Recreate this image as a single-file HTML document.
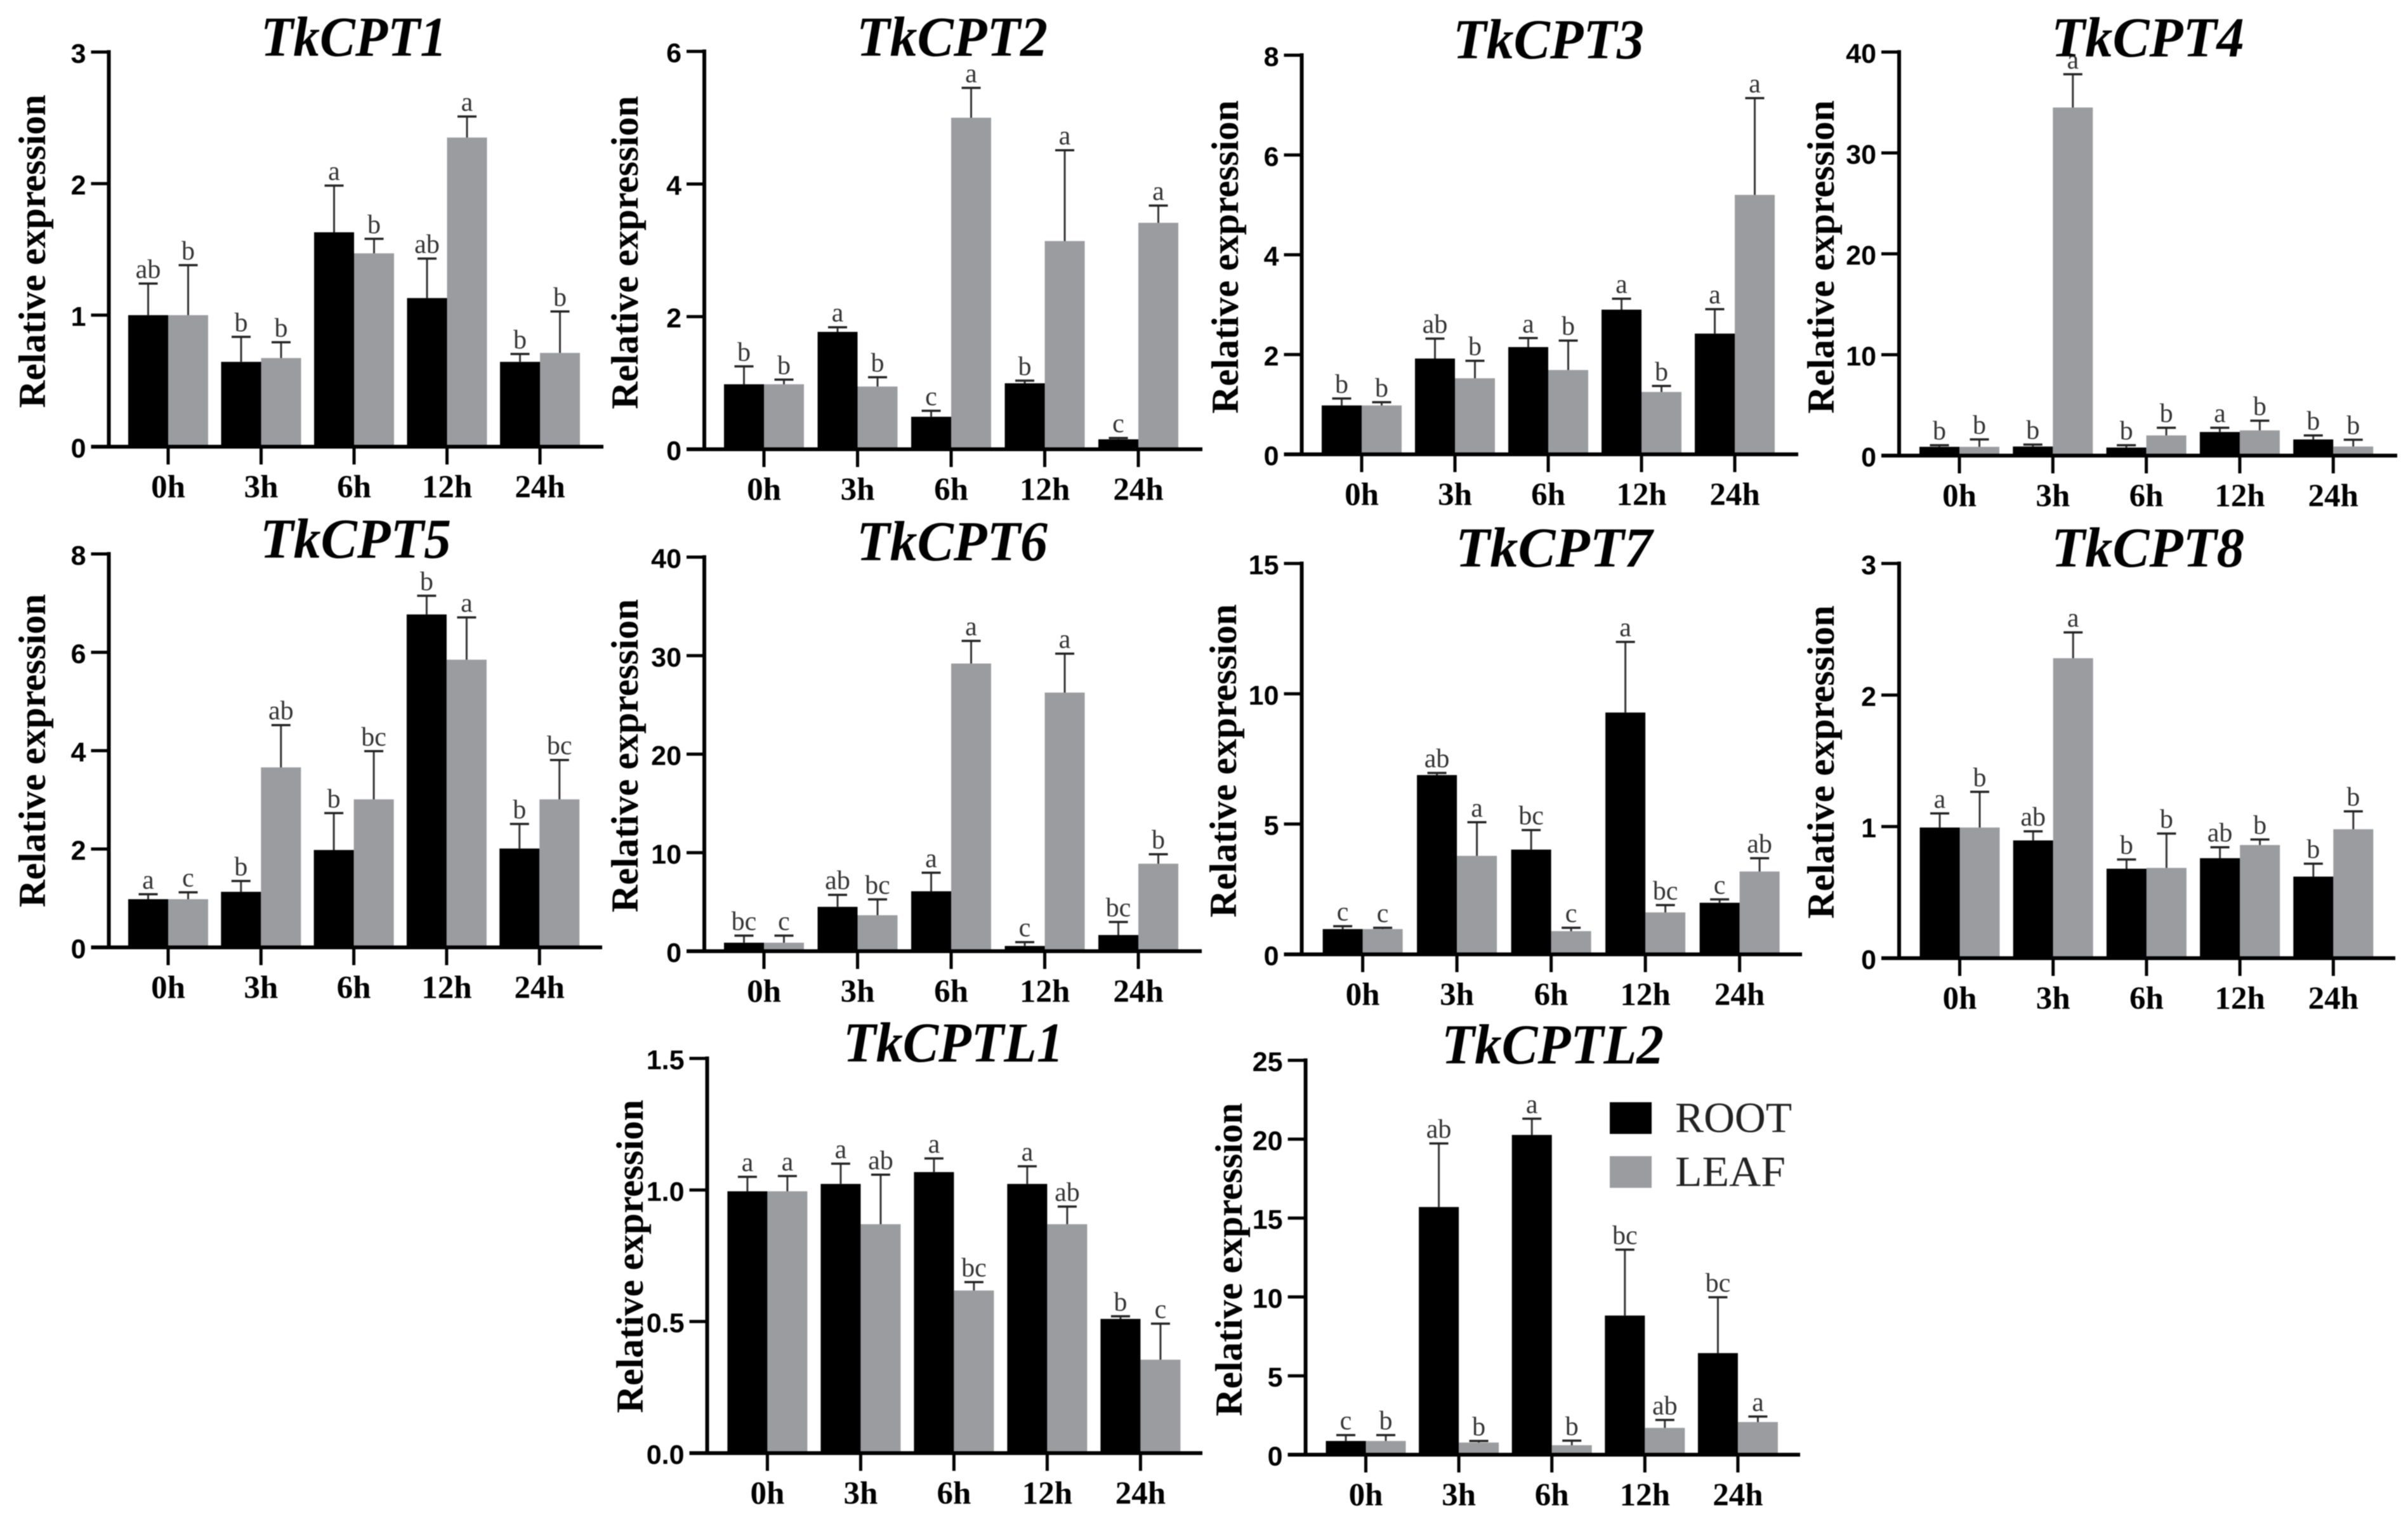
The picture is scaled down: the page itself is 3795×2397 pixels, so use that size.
<!DOCTYPE html>
<html lang="en">
<head>
<meta charset="utf-8">
<title>Relative expression of TkCPT genes</title>
<style>
html,body{margin:0;padding:0;background:#fff;}
svg{display:block;filter:blur(0.9px);}
.title{font-family:"Liberation Serif",serif;font-weight:bold;font-style:italic;font-size:89px;fill:#000;}
.ylab{font-family:"Liberation Serif",serif;font-weight:bold;font-size:60px;fill:#000;text-anchor:middle;}
.ytick{font-family:"Liberation Sans",sans-serif;font-weight:bold;font-size:43px;fill:#000;text-anchor:end;}
.xtick{font-family:"Liberation Serif",serif;font-weight:bold;font-size:51px;fill:#000;text-anchor:middle;}
.sig{font-family:"Liberation Serif",serif;font-size:42px;fill:#333;text-anchor:middle;}
.legend{font-family:"Liberation Serif",serif;font-size:68px;fill:#222;}
</style>
</head>
<body>
<svg id="figure" xmlns="http://www.w3.org/2000/svg" width="3795" height="2397" viewBox="0 0 3795 2397">
  <rect width="3795" height="2397" fill="#fff"/>

  <g id="tkcpt1">
    <text class="title" x="411" y="88" textLength="293" lengthAdjust="spacingAndGlyphs">TkCPT1</text>
    <text class="ylab" transform="translate(71,396) rotate(-90)">Relative expression</text>
  </g>
  <g id="tkcpt2">
    <text class="title" x="1350" y="88" textLength="301" lengthAdjust="spacingAndGlyphs">TkCPT2</text>
    <text class="ylab" transform="translate(1005,398) rotate(-90)">Relative expression</text>
  </g>
  <g id="tkcpt3">
    <text class="title" x="2290" y="92" textLength="301" lengthAdjust="spacingAndGlyphs">TkCPT3</text>
    <text class="ylab" transform="translate(1951,405) rotate(-90)">Relative expression</text>
  </g>
  <g id="tkcpt4">
    <text class="title" x="3233" y="89" textLength="304" lengthAdjust="spacingAndGlyphs">TkCPT4</text>
    <text class="ylab" transform="translate(2890,405) rotate(-90)">Relative expression</text>
  </g>
  <g id="tkcpt5">
    <text class="title" x="410" y="879" textLength="301" lengthAdjust="spacingAndGlyphs">TkCPT5</text>
    <text class="ylab" transform="translate(71,1183) rotate(-90)">Relative expression</text>
  </g>
  <g id="tkcpt6">
    <text class="title" x="1350" y="883" textLength="301" lengthAdjust="spacingAndGlyphs">TkCPT6</text>
    <text class="ylab" transform="translate(1005,1191) rotate(-90)">Relative expression</text>
  </g>
  <g id="tkcpt7">
    <text class="title" x="2294" y="893" textLength="310" lengthAdjust="spacingAndGlyphs">TkCPT7</text>
    <text class="ylab" transform="translate(1948,1199) rotate(-90)">Relative expression</text>
  </g>
  <g id="tkcpt8">
    <text class="title" x="3233" y="893" textLength="304" lengthAdjust="spacingAndGlyphs">TkCPT8</text>
    <text class="ylab" transform="translate(2890,1201) rotate(-90)">Relative expression</text>
  </g>
  <g id="tkcptl1">
    <text class="title" x="1329" y="1673" textLength="347" lengthAdjust="spacingAndGlyphs">TkCPTL1</text>
    <text class="ylab" transform="translate(1013,1980) rotate(-90)">Relative expression</text>
  </g>
  <g id="tkcptl2">
    <text class="title" x="2272" y="1676" textLength="350" lengthAdjust="spacingAndGlyphs">TkCPTL2</text>
    <text class="ylab" transform="translate(1957,1985) rotate(-90)">Relative expression</text>
  </g>

  <g>
    <g>
      <rect x="2537" y="1737" width="66" height="50" fill="#000"/>
      <text class="legend" x="2640" y="1784" textLength="184" lengthAdjust="spacingAndGlyphs">ROOT</text>
    </g>
    <g>
      <rect x="2537" y="1822" width="66" height="50" fill="#9b9c9f"/>
      <text class="legend" x="2640" y="1869" textLength="174" lengthAdjust="spacingAndGlyphs">LEAF</text>
    </g>
  </g>
</svg>

<script>
// Shared category labels
const categories = ["0h", "3h", "6h", "12h", "24h"];

// TkCPT1
const tkcpt1Ticks = ["0", "1", "2", "3"];
const tkcpt1Root = [1.0, 0.645, 1.63, 1.13, 0.645];
const tkcpt1RootSd = [0.24, 0.19, 0.355, 0.30, 0.06];
const tkcpt1RootSig = ["ab", "b", "a", "ab", "b"];
const tkcpt1Leaf = [1.0, 0.674, 1.47, 2.35, 0.713];
const tkcpt1LeafSd = [0.38, 0.12, 0.11, 0.16, 0.315];
const tkcpt1LeafSig = ["b", "b", "b", "a", "b"];

// TkCPT2
const tkcpt2Ticks = ["0", "2", "4", "6"];
const tkcpt2Root = [0.98, 1.77, 0.49, 0.995, 0.15];
const tkcpt2RootSd = [0.27, 0.07, 0.09, 0.04, 0.02];
const tkcpt2RootSig = ["b", "a", "c", "b", "c"];
const tkcpt2Leaf = [0.98, 0.946, 5.0, 3.14, 3.415];
const tkcpt2LeafSd = [0.07, 0.14, 0.45, 1.37, 0.26];
const tkcpt2LeafSig = ["b", "b", "a", "a", "a"];

// TkCPT3
const tkcpt3Ticks = ["0", "2", "4", "6", "8"];
const tkcpt3Root = [0.98, 1.92, 2.15, 2.90, 2.42];
const tkcpt3RootSd = [0.14, 0.40, 0.18, 0.22, 0.49];
const tkcpt3RootSig = ["b", "ab", "a", "a", "a"];
const tkcpt3Leaf = [0.98, 1.525, 1.69, 1.25, 5.2];
const tkcpt3LeafSd = [0.065, 0.35, 0.59, 0.12, 1.94];
const tkcpt3LeafSig = ["b", "b", "b", "b", "a"];

// TkCPT4
const tkcpt4Ticks = ["0", "10", "20", "30", "40"];
const tkcpt4Root = [0.87, 0.9, 0.8, 2.34, 1.6];
const tkcpt4RootSd = [0.16, 0.19, 0.23, 0.42, 0.4];
const tkcpt4RootSig = ["b", "b", "b", "a", "b"];
const tkcpt4Leaf = [0.87, 34.5, 2.0, 2.5, 0.9];
const tkcpt4LeafSd = [0.73, 3.3, 0.76, 0.96, 0.67];
const tkcpt4LeafSig = ["b", "a", "b", "b", "b"];

// TkCPT5
const tkcpt5Ticks = ["0", "2", "4", "6", "8"];
const tkcpt5Root = [0.98, 1.13, 1.98, 6.77, 2.01];
const tkcpt5RootSd = [0.10, 0.22, 0.75, 0.38, 0.5];
const tkcpt5RootSig = ["a", "b", "b", "b", "b"];
const tkcpt5Leaf = [0.98, 3.66, 3.01, 5.85, 3.01];
const tkcpt5LeafSd = [0.14, 0.86, 0.98, 0.86, 0.8];
const tkcpt5LeafSig = ["c", "ab", "bc", "a", "bc"];

// TkCPT6
const tkcpt6Ticks = ["0", "10", "20", "30", "40"];
const tkcpt6Root = [0.86, 4.5, 6.08, 0.53, 1.64];
const tkcpt6RootSd = [0.72, 1.22, 1.88, 0.39, 1.32];
const tkcpt6RootSig = ["bc", "ab", "a", "c", "bc"];
const tkcpt6Leaf = [0.86, 3.65, 29.2, 26.25, 8.88];
const tkcpt6LeafSd = [0.72, 1.61, 2.3, 3.95, 0.96];
const tkcpt6LeafSig = ["c", "bc", "a", "a", "b"];

// TkCPT7
const tkcpt7Ticks = ["0", "5", "10", "15"];
const tkcpt7Root = [0.97, 6.88, 4.02, 9.28, 1.98];
const tkcpt7RootSd = [0.11, 0.08, 0.75, 2.71, 0.13];
const tkcpt7RootSig = ["c", "ab", "bc", "a", "c"];
const tkcpt7Leaf = [0.97, 3.78, 0.89, 1.61, 3.18];
const tkcpt7LeafSd = [0.05, 1.29, 0.13, 0.28, 0.51];
const tkcpt7LeafSig = ["c", "a", "c", "bc", "ab"];

// TkCPT8
const tkcpt8Ticks = ["0", "1", "2", "3"];
const tkcpt8Root = [0.993, 0.895, 0.68, 0.76, 0.62];
const tkcpt8RootSd = [0.107, 0.069, 0.07, 0.083, 0.098];
const tkcpt8RootSig = ["a", "ab", "b", "ab", "b"];
const tkcpt8Leaf = [0.993, 2.28, 0.686, 0.86, 0.98];
const tkcpt8LeafSd = [0.271, 0.196, 0.261, 0.042, 0.136];
const tkcpt8LeafSig = ["b", "a", "b", "b", "b"];

// TkCPTL1
const tkcptl1Ticks = ["0.0", "0.5", "1.0", "1.5"];
const tkcptl1Root = [0.995, 1.023, 1.068, 1.023, 0.51];
const tkcptl1RootSd = [0.055, 0.077, 0.052, 0.067, 0.01];
const tkcptl1RootSig = ["a", "a", "a", "a", "b"];
const tkcptl1Leaf = [0.995, 0.87, 0.618, 0.87, 0.355];
const tkcptl1LeafSd = [0.058, 0.188, 0.032, 0.067, 0.137];
const tkcptl1LeafSig = ["a", "ab", "bc", "ab", "c"];

// TkCPTL2
const tkcptl2Ticks = ["0", "5", "10", "15", "20", "25"];
const tkcptl2Root = [0.87, 15.7, 20.27, 8.82, 6.44];
const tkcptl2RootSd = [0.37, 4.03, 1.03, 4.18, 3.54];
const tkcptl2RootSig = ["c", "ab", "a", "bc", "bc"];
const tkcptl2Leaf = [0.87, 0.77, 0.6, 1.7, 2.07];
const tkcptl2LeafSd = [0.37, 0.1, 0.29, 0.5, 0.35];
const tkcptl2LeafSig = ["b", "b", "b", "ab", "a"];

const NS = "http://www.w3.org/2000/svg";
const ROOT_COLOR = "#000";
const LEAF_COLOR = "#9b9c9f";
const BAR_W = 63;

function make(tag, parent, props) {
  const el = document.createElementNS(NS, tag);
  for (const k in props) el.setAttribute(k, props[k]);
  parent.appendChild(el);
  return el;
}

function drawSeries(g, prefix, side, values, sds, sigs, xScale, yScale, base, color) {
  values.forEach(function (v, i) {
    const cx = xScale(i);
    const left = side < 0 ? cx - BAR_W : cx;
    const bar = make("rect", g, { x: left, y: yScale(v), width: BAR_W, height: base - yScale(v), fill: color });
    
    

    const ex = left + BAR_W / 2;
    const errTop = yScale(v + sds[i]);
    const stem = make("line", g, { x1: ex, x2: ex, y1: yScale(v), y2: errTop, stroke: "#333", "stroke-width": 3 });
    
    
    const cap = make("line", g, { x1: ex - 15, x2: ex + 15, y1: errTop, y2: errTop, stroke: "#222", "stroke-width": 3.5 });
    
    

    const t = make("text", g, { class: "sig", x: ex, y: errTop - 9 });
    t.textContent = sigs[i];
    
    
  });
}

function drawChart(id, frame, ticks, root, rootSd, rootSig, leaf, leafSd, leafSig) {
  const g = document.getElementById(id);
  const maxVal = parseFloat(ticks[ticks.length - 1]);
  const yScale = function (v) { return frame.base - (v / maxVal) * (frame.base - frame.top); };
  const xScale = function (i) { return frame.cat0 + i * frame.step; };

  drawSeries(g, id + '-root', -1, root, rootSd, rootSig, xScale, yScale, frame.base, ROOT_COLOR);
  drawSeries(g, id + '-leaf', 1, leaf, leafSd, leafSig, xScale, yScale, frame.base, LEAF_COLOR);

  const yAxis = make("line", g, { x1: frame.axisX, x2: frame.axisX, y1: frame.top - 3, y2: frame.base + 3, stroke: "#000", "stroke-width": 6 });
  
  
  const xAxis = make("line", g, { x1: frame.axisX - 28, x2: frame.xEnd, y1: frame.base, y2: frame.base, stroke: "#000", "stroke-width": 6 });
  
  

  ticks.forEach(function (label) {
    const y = yScale(parseFloat(label));
    const tick = make("line", g, { x1: frame.axisX - 28, x2: frame.axisX, y1: y, y2: y, stroke: "#000", "stroke-width": 5 });
    
    
    const t = make("text", g, { class: "ytick", x: frame.axisX - 36, y: y + 17 });
    t.textContent = label;
    
    
  });

  categories.forEach(function (label, i) {
    const x = xScale(i);
    const tick = make("line", g, { x1: x, x2: x, y1: frame.base, y2: frame.base + 28, stroke: "#000", "stroke-width": 5 });
    
    
    const t = make("text", g, { class: "xtick", x: x, y: frame.base + 80 });
    t.textContent = label;
    
    
  });
}

drawChart("tkcpt1", { axisX: 171.5, top: 82, base: 704, cat0: 265, step: 146.5, xEnd: 951 },
  tkcpt1Ticks, tkcpt1Root, tkcpt1RootSd, tkcpt1RootSig, tkcpt1Leaf, tkcpt1LeafSd, tkcpt1LeafSig);
drawChart("tkcpt2", { axisX: 1110, top: 81, base: 708, cat0: 1204, step: 147.5, xEnd: 1895 },
  tkcpt2Ticks, tkcpt2Root, tkcpt2RootSd, tkcpt2RootSig, tkcpt2Leaf, tkcpt2LeafSd, tkcpt2LeafSig);
drawChart("tkcpt3", { axisX: 2051.5, top: 87, base: 716, cat0: 2146, step: 147, xEnd: 2834 },
  tkcpt3Ticks, tkcpt3Root, tkcpt3RootSd, tkcpt3RootSig, tkcpt3Leaf, tkcpt3LeafSd, tkcpt3LeafSig);
drawChart("tkcpt4", { axisX: 2993, top: 82, base: 718, cat0: 3088, step: 147.3, xEnd: 3778 },
  tkcpt4Ticks, tkcpt4Root, tkcpt4RootSd, tkcpt4RootSig, tkcpt4Leaf, tkcpt4LeafSd, tkcpt4LeafSig);
drawChart("tkcpt5", { axisX: 171.5, top: 873, base: 1493, cat0: 265, step: 146.3, xEnd: 949 },
  tkcpt5Ticks, tkcpt5Root, tkcpt5RootSd, tkcpt5RootSig, tkcpt5Leaf, tkcpt5LeafSd, tkcpt5LeafSig);
drawChart("tkcpt6", { axisX: 1110, top: 878, base: 1499, cat0: 1204, step: 147.5, xEnd: 1894 },
  tkcpt6Ticks, tkcpt6Root, tkcpt6RootSd, tkcpt6RootSig, tkcpt6Leaf, tkcpt6LeafSd, tkcpt6LeafSig);
drawChart("tkcpt7", { axisX: 2051.5, top: 888, base: 1504, cat0: 2147.6, step: 148.5, xEnd: 2840 },
  tkcpt7Ticks, tkcpt7Root, tkcpt7RootSd, tkcpt7RootSig, tkcpt7Leaf, tkcpt7LeafSd, tkcpt7LeafSig);
drawChart("tkcpt8", { axisX: 2993, top: 888, base: 1510, cat0: 3088.5, step: 147.2, xEnd: 3775 },
  tkcpt8Ticks, tkcpt8Root, tkcpt8RootSd, tkcpt8RootSig, tkcpt8Leaf, tkcpt8LeafSd, tkcpt8LeafSig);
drawChart("tkcptl1", { axisX: 1114.5, top: 1668, base: 2290, cat0: 1209.4, step: 147, xEnd: 1895 },
  tkcptl1Ticks, tkcptl1Root, tkcptl1RootSd, tkcptl1RootSig, tkcptl1Leaf, tkcptl1LeafSd, tkcptl1LeafSig);
drawChart("tkcptl2", { axisX: 2057.6, top: 1671, base: 2292.5, cat0: 2152.5, step: 146.6, xEnd: 2837 },
  tkcptl2Ticks, tkcptl2Root, tkcptl2RootSd, tkcptl2RootSig, tkcptl2Leaf, tkcptl2LeafSd, tkcptl2LeafSig);
</script>
</body>
</html>
